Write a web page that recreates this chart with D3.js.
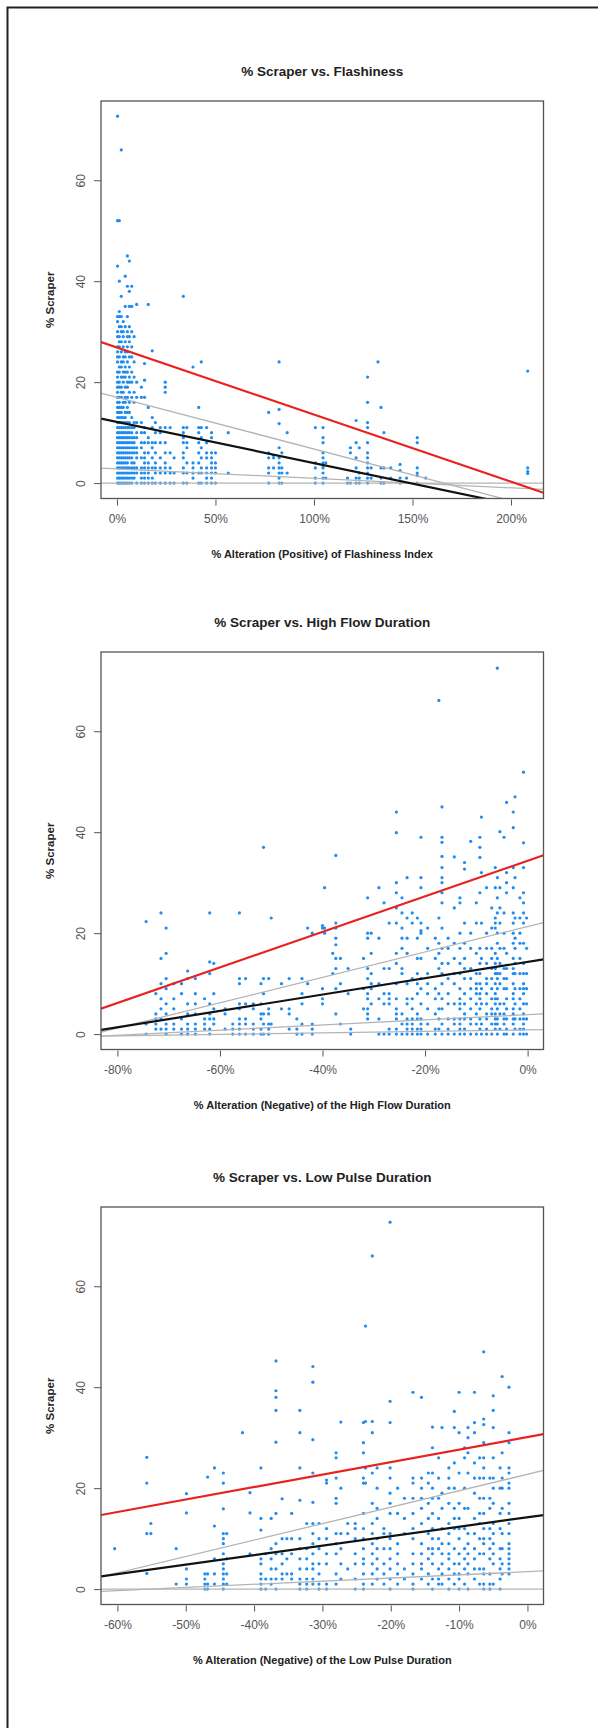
<!DOCTYPE html>
<html>
<head>
<meta charset="utf-8">
<script src="https://cdn.jsdelivr.net/npm/d3@7"></script>
<style>
  body { margin: 0; background: #fff; }
  svg text { font-family: "Liberation Sans", Arial, sans-serif; }
</style>
</head>
<body>
<div class="chart"></div>
<script>
// ---- data: [x %, [y values ...]] columns ----
const flashCols = [
  [0.3, [72.7, 52, 43, 33, 32, 30, 29, 27, 26, 25, 24, 22, 21, 20, 19, 18, 17, 16, 15, 14, 13, 12, 11, 10, 9, 8, 7, 6, 5, 4, 3, 2, 1, 0]],
  [1.2, [52, 40, 34, 33, 31, 29, 28, 27, 25, 23, 22, 20, 19, 17, 16, 15, 14, 13, 12, 11, 10, 9, 8, 7, 6, 5, 4, 3, 2, 1, 0]],
  [2.2, [66, 37, 33, 31, 30, 28, 26, 24, 23, 21, 19, 18, 17, 15, 14, 13, 12, 11, 10, 9, 8, 7, 6, 5, 4, 3, 2, 1, 0]],
  [3.2, [32, 30, 29, 27, 25, 24, 22, 21, 20, 18, 16, 15, 13, 12, 11, 10, 9, 8, 7, 6, 5, 4, 3, 2, 1, 0]],
  [4.2, [41, 35, 31, 28, 26, 25, 23, 22, 21, 19, 17, 16, 14, 13, 12, 11, 10, 9, 8, 7, 6, 5, 4, 3, 2, 1, 0]],
  [5.3, [45, 39, 33, 30, 29, 27, 26, 24, 22, 20, 19, 17, 15, 14, 12, 11, 10, 9, 8, 7, 6, 5, 4, 3, 2, 1, 0]],
  [6.3, [44, 38, 35, 31, 29, 28, 25, 23, 21, 20, 18, 16, 14, 12, 11, 10, 9, 8, 7, 6, 5, 3, 2, 1, 0]],
  [7.5, [39, 35, 30, 27, 25, 22, 20, 17, 13, 11, 10, 9, 8, 7, 6, 5, 4, 3, 2, 1, 0]],
  [8.7, [29, 24, 21, 18, 16, 12, 11, 9, 8, 7, 6, 4, 3, 2, 1]],
  [10, [35.4, 20, 17, 12, 10, 9, 7, 6, 5, 3, 2, 0]],
  [12.4, [19, 17, 12, 10, 8, 7, 5, 3, 2, 1, 0]],
  [14, [23.7, 20.4, 17, 11, 10, 8, 6, 5, 4, 3, 2, 1, 0]],
  [15.9, [35.4, 15, 9, 8, 6, 4, 3, 2, 1, 0]],
  [17.9, [26.2, 13, 11, 8, 7, 5, 3, 1, 0]],
  [19.5, [12, 10, 8, 6, 4, 3, 2, 0]],
  [22, [11, 10, 8, 5, 3, 2, 0]],
  [24.5, [20, 19, 18, 11, 8, 6, 4, 3, 2, 0]],
  [27, [11, 6, 3, 2, 0]],
  [29, [5, 2, 0]],
  [33.7, [37, 11, 10, 9, 8, 6, 5, 3, 2, 0]],
  [35.5, [11, 8, 7, 4, 2, 0]],
  [38.6, [23, 4, 3, 2, 1]],
  [41.5, [15, 11, 10, 8, 6, 4, 2, 0]],
  [42.8, [24, 11, 9, 7, 5, 3, 2, 0]],
  [45.5, [11, 8, 6, 5, 3, 2, 1, 0]],
  [48, [10, 9, 6, 5, 4, 3, 2, 1, 0]],
  [50, [6, 4, 3, 2, 0]],
  [56.5, [10, 2]],
  [77, [14, 6, 5, 3, 2, 0]],
  [79.5, [5.5, 5, 3]],
  [82.3, [24, 14.6, 11.8, 7, 5, 4, 3, 2, 1, 0]],
  [83.7, [6, 3, 2, 0]],
  [86.4, [10, 2]],
  [100.7, [11, 4, 3, 1, 0]],
  [104.6, [11, 9, 8, 6, 5, 4, 3.5, 3, 2, 1, 0]],
  [106, [4, 1]],
  [117, [1, 0]],
  [118.5, [7, 6, 0]],
  [121.4, [12.4, 8, 5, 3, 1, 0]],
  [123, [7, 2, 1, 0]],
  [127.2, [21, 16, 12, 11, 8, 6, 5, 4, 3, 2, 1, 0]],
  [129, [3, 1]],
  [132.5, [24]],
  [134, [15, 3, 1, 0]],
  [135.5, [10, 3, 0]],
  [139, [3, 1]],
  [143.7, [3.7, 2.5, 1, 0]],
  [147, [1]],
  [152.4, [9, 8, 3, 2, 1.5, 0]],
  [156.7, [1]],
  [208.5, [22.2, 3, 2.3, 1.9]]
]

const highCols = [
  [-74.4, [22.3, 2, 0]],
  [-72.5, [8, 4, 3, 2, 1]],
  [-71.5, [24, 15, 10, 7, 5, 3, 1]],
  [-70.5, [21, 16, 11, 9, 6, 4, 2, 1, 0]],
  [-69, [10, 7, 5, 2, 1]],
  [-67.5, [10, 8, 3, 1, 0]],
  [-66.3, [12.5, 11, 6, 4, 2, 1, 0]],
  [-64.8, [11, 8, 6, 4, 2, 1, 0]],
  [-63, [7, 3, 2, 1]],
  [-62, [24, 14.3, 12, 6, 4, 3, 1, 0]],
  [-61.2, [14, 8, 5, 3, 2]],
  [-59, [5, 4, 1]],
  [-57.5, [2, 1, 0]],
  [-56.2, [24, 11, 10, 6, 5, 3, 2, 1, 0]],
  [-55, [11, 6, 3, 2, 0]],
  [-53.5, [6, 5, 2, 1, 0]],
  [-52, [10, 6, 4, 3, 1, 0]],
  [-51.5, [37, 11, 8, 4, 2, 0]],
  [-50.5, [11, 5, 4, 2, 1, 0]],
  [-50, [23, 2]],
  [-48, [10, 5]],
  [-46.5, [11, 5, 4, 1]],
  [-45, [3, 1, 0]],
  [-44, [11, 8, 6, 2, 0]],
  [-42.9, [21, 10]],
  [-42, [20, 2, 1, 0]],
  [-40, [21.5, 21, 9, 7, 6]],
  [-39.6, [29, 21, 20]],
  [-38, [16, 12]],
  [-37.4, [35.4, 22, 21, 19, 17.7, 15, 13, 9, 4]],
  [-36.5, [15, 10, 2]],
  [-35, [13, 8]],
  [-34.5, [1, 0]],
  [-32, [15, 9, 5]],
  [-31.2, [27, 20, 19, 13, 11, 8, 7, 5, 4, 3]],
  [-30.5, [20, 16, 12, 10, 9, 6]],
  [-29, [29, 19, 10, 7, 3, 0]],
  [-28, [26, 13, 8, 6, 0]],
  [-27, [22, 13, 8, 7, 6, 1, 0]],
  [-25.6, [44, 39.9, 30, 28, 25, 22, 16, 14, 10, 7, 5, 4, 3, 1, 0]],
  [-24.5, [27, 24, 21, 19, 17, 13, 12, 4, 2, 0]],
  [-23.5, [31, 23, 19, 16, 10, 7, 6, 3, 2, 1, 0]],
  [-22.5, [24, 22, 11, 7, 5, 3, 2, 1, 0]],
  [-21.5, [23, 19, 15, 12, 10, 8, 4, 3, 1, 0]],
  [-20.8, [39, 31, 29, 22, 20.5, 20, 15, 11, 9, 6, 3, 2, 1, 0]],
  [-19.5, [21, 17, 12, 10, 8, 5, 2, 0]],
  [-18, [19, 15, 9, 7, 4, 1, 0]],
  [-17.3, [66.1, 23, 18, 16, 13, 8, 5, 3, 1]],
  [-16.7, [45, 39, 38, 35.2, 33, 31, 30, 28, 26, 21, 17, 14, 12, 10, 7, 5, 2, 0]],
  [-15.5, [19, 17, 14, 11, 8, 6, 3, 1, 0]],
  [-14.3, [35.1, 25, 18, 15, 12, 10, 6, 3, 2, 0]],
  [-13.2, [27, 26, 20, 17, 14, 12, 9, 7, 6, 5, 3, 2, 1, 0]],
  [-12.3, [34, 32.7, 22, 18, 15, 13, 11, 8, 6, 4, 3, 1, 0]],
  [-11.1, [38.2, 20, 17, 13, 11, 9, 7, 5, 3, 2, 0]],
  [-10, [26, 22, 16, 12, 10, 9, 8, 6, 4, 2, 0]],
  [-9.3, [39, 37, 35, 28, 17, 14, 12, 10, 8, 7, 5, 3, 1]],
  [-9, [43, 32, 22, 15, 9, 6, 2, 0]],
  [-8, [29, 20, 17, 14, 11, 10, 8, 6, 4, 3, 1, 0]],
  [-7, [25, 21, 17, 15, 13, 11, 9, 7, 5, 4, 2, 0]],
  [-6.3, [33, 29, 23, 22, 21, 16, 14, 13, 12, 10, 8, 7, 6, 4, 3, 2, 1]],
  [-5.9, [72.5, 31, 27, 24, 20, 18, 15, 12, 11, 9, 7, 5, 3, 2, 0]],
  [-5.4, [40.1, 29, 25, 22, 17, 14, 12, 10, 6, 4, 1]],
  [-4.6, [39, 24, 20, 17, 13, 11, 9, 6, 4, 3, 2, 0]],
  [-4.1, [45.9, 32, 30, 28, 16, 13, 11, 9, 7, 5, 3, 1, 0]],
  [-2.8, [44, 40.9, 33, 29, 24, 22, 20, 18, 15, 13, 12, 10, 8, 7, 5, 4, 3, 2, 0]],
  [-2.45, [47, 31, 23, 19, 17, 14, 12, 9, 6, 3, 1]],
  [-1.5, [27, 23, 20, 18, 15, 12, 9, 7, 5, 3, 1, 0]],
  [-0.8, [51.9, 37.9, 33, 28, 26, 24, 22, 18, 14, 12, 10, 9, 8, 6, 4, 3, 2, 1, 0]],
  [-0.2, [23, 17, 12, 9, 6, 3, 0]]
]

const lowCols = [
  [-60.4, [8]],
  [-55.7, [26.1, 21, 11, 3.1]],
  [-55.1, [13, 11]],
  [-51.4, [8, 1]],
  [-49.9, [18.9, 15.1, 4, 2, 1]],
  [-47.2, [3, 2, 1, 0]],
  [-46.8, [22.2, 3, 1, 0]],
  [-45.8, [24, 12.5, 6, 3, 1]],
  [-44.5, [23, 21, 15.9, 11, 10, 9, 7, 5, 4, 3, 2, 1, 0]],
  [-44, [11, 6, 3, 1]],
  [-41.7, [31]],
  [-40.6, [19.1, 15.1, 7]],
  [-39, [24, 14, 11.7, 6, 5, 3, 2, 1, 0]],
  [-38.3, [7, 2, 0]],
  [-37.5, [14, 8, 6, 4, 2, 1]],
  [-36.8, [45.2, 39.3, 38, 35.4, 29.1, 15, 9, 7, 4, 2, 0]],
  [-35.9, [17.9, 10, 7, 5, 3, 2]],
  [-35.2, [10, 6, 3]],
  [-34.5, [15, 10, 7, 3, 2]],
  [-33.3, [35.4, 31, 24, 17.6, 10, 8, 6, 4, 2, 1, 0]],
  [-32.3, [13, 8, 6, 4, 2, 1, 0]],
  [-31.4, [44.1, 41, 29.6, 23, 17.2, 13, 11, 9, 7, 5, 4, 2, 1]],
  [-30.5, [13, 10, 8, 5, 3, 1, 0]],
  [-29.4, [21.6, 21, 12, 10, 7, 5, 1, 0]],
  [-28, [27, 26, 22, 18, 17, 11, 9, 7, 3, 1]],
  [-27.3, [33.1, 20, 11, 8, 5, 2]],
  [-26.3, [13, 11, 4]],
  [-25.2, [13, 12, 10, 7, 5, 2, 0]],
  [-24, [33, 29, 27, 22, 21, 15, 12, 10, 8, 6, 5, 3, 1, 0]],
  [-23.7, [52.1, 33.2, 24, 21]],
  [-22.7, [66, 33.2, 31, 23, 17, 13, 11, 9, 7, 5, 3, 1]],
  [-22, [24, 20, 16, 14, 10, 8, 6, 4, 2]],
  [-21, [12, 11, 8, 5, 3, 1]],
  [-20.1, [72.7, 37.2, 33, 24, 22, 19, 17, 15, 11, 10, 8, 6, 4, 2, 0]],
  [-19, [20, 15, 9, 7, 5, 3, 1]],
  [-18, [18, 14, 11, 4, 2]],
  [-16.75, [39, 22, 21, 18, 15, 12, 10, 7, 5, 3, 1, 0]],
  [-15.5, [38, 22, 20, 18, 16, 13, 9, 7, 5, 4, 2]],
  [-14.5, [23, 21, 17, 14, 11, 8, 6, 3, 1]],
  [-13.9, [32.1, 28, 23, 20, 18, 15, 12, 10, 8, 7, 5, 2, 0]],
  [-13, [26, 22, 18, 14, 10, 8, 4, 2, 1]],
  [-12.5, [32, 19, 16, 12, 9, 7, 5, 3, 1]],
  [-11.5, [24, 22, 20, 17, 13, 11, 9, 7, 6, 4, 2, 0]],
  [-10.7, [35.2, 32, 25, 20, 16, 14, 12, 8, 5, 3, 1]],
  [-10, [39, 31, 23, 17, 14, 12, 10, 7, 5, 3, 2, 0]],
  [-9.2, [28, 26, 20, 16, 12, 8, 6, 4, 1]],
  [-8.7, [32, 30, 27, 23, 16, 11, 9, 7, 5, 3, 0]],
  [-7.75, [39, 33, 31, 25, 22, 19, 14, 11, 8, 6, 4, 2]],
  [-7, [26, 22, 18, 15, 13, 10, 7, 4, 1]],
  [-6.4, [47, 33.7, 32.6, 29, 26, 24, 22, 18, 15, 12, 10, 9, 7, 4, 3, 1, 0]],
  [-5.5, [22, 18, 16, 12, 10, 8, 6, 3, 1, 0]],
  [-5, [38.3, 35.4, 32, 26, 22, 20, 17, 13, 11, 9, 7, 5, 1]],
  [-4, [24, 20, 15, 12, 8, 6, 4, 2, 0]],
  [-3.7, [42.1, 27, 22, 20, 16, 11, 8, 5, 3]],
  [-2.7, [40, 31, 29, 24, 23, 21, 20, 17, 15, 13, 11, 9, 8, 7, 6, 5, 4, 3]]
]

// fitted lines: [intercept, slope, colour key]
const flashFits = [[26.87, -0.1329, 'red'], [17.01, -0.1025, 'gray'], [12.11, -0.0814, 'black'], [2.82, -0.0188, 'gray'], [0, 0, 'gray']]
const highFits = [[34.33, 0.352, 'red'], [21.3, 0.2515, 'gray'], [14.31, 0.162, 'black'], [3.85, 0.051, 'gray'], [0.85, 0.0151, 'gray']]
const lowFits = [[30.12, 0.2475, 'red'], [22.74, 0.3258, 'gray'], [14.23, 0.1879, 'black'], [3.45, 0.0625, 'gray'], [0, 0, 'gray']]

const flashTicks = [0, 50, 100, 150, 200]
const highTicks = [-80, -60, -40, -20, 0]
const lowTicks = [-60, -50, -40, -30, -20, -10, 0]
const yTicks = [0, 20, 40, 60]

const panels = [
  { title: '% Scraper vs. Flashiness', xTitle: '% Alteration (Positive) of Flashiness Index',
    cols: flashCols, fits: flashFits, xTicks: flashTicks, xDom: [-8.1, 216.5], top: 101 },
  { title: '% Scraper vs. High Flow Duration', xTitle: '% Alteration (Negative) of the High Flow Duration',
    cols: highCols, fits: highFits, xTicks: highTicks, xDom: [-83.2, 3.1], top: 652 },
  { title: '% Scraper vs. Low Pulse Duration', xTitle: '% Alteration (Negative) of the Low Pulse Duration',
    cols: lowCols, fits: lowFits, xTicks: lowTicks, xDom: [-62.4, 2.35], top: 1207 }
]

const W = 598, H = 1728
const box = { left: 101, right: 543.5, h: 397.5 }
const lineColour = { red: '#e8231f', gray: '#b4b4b4', black: '#111' }
const lineWidth = { red: 2.2, gray: 1.3, black: 2.2 }

const svg = d3.select('.chart').append('svg')
  .attr('width', W).attr('height', H)

// outer frame (left and top edges)
svg.append('path')
  .attr('d', `M7.5,${H} L7.5,7.5 L${W},7.5`)
  .attr('fill', 'none').attr('stroke', '#222').attr('stroke-width', 2)

panels.forEach((p, i) => {
  const top = p.top, bottom = p.top + box.h
  const x = d3.scaleLinear().domain(p.xDom).range([box.left, box.right])
  const y = d3.scaleLinear().domain([-3.05, 75.7]).range([bottom, top])

  const g = svg.append('g').classed('panel', true)

  const clipId = 'clip' + i
  g.append('clipPath').attr('id', clipId)
    .append('rect').attr('x', box.left).attr('y', top)
    .attr('width', box.right - box.left).attr('height', box.h)

  // points
  const pts = p.cols.flatMap(([cx, ys]) => ys.map(v => [cx, v]))
  g.append('g').selectAll('circle').data(pts).join('circle')
    .attr('cx', d => x(d[0])).attr('cy', d => y(d[1]))
    .attr('r', 1.6).attr('fill', '#1e8cf0')

  // fit lines (gray first, then black, red on top)
  const order = { gray: 0, black: 1, red: 2 }
  const fits = p.fits.slice().sort((a, b) => order[a[2]] - order[b[2]])
  g.append('g').attr('clip-path', `url(#${clipId})`)
    .selectAll('line').data(fits).join('line')
    .attr('x1', x(p.xDom[0])).attr('x2', x(p.xDom[1]))
    .attr('y1', d => y(d[0] + d[1] * p.xDom[0]))
    .attr('y2', d => y(d[0] + d[1] * p.xDom[1]))
    .attr('stroke', d => lineColour[d[2]])
    .attr('stroke-width', d => lineWidth[d[2]])

  // plot frame
  g.append('rect').attr('x', box.left).attr('y', top)
    .attr('width', box.right - box.left).attr('height', box.h)
    .attr('fill', 'none').attr('stroke', '#555').attr('stroke-width', 1.3)

  // x axis
  const xAxis = d3.axisBottom(x).tickValues(p.xTicks).tickSizeOuter(0).tickSize(6).tickPadding(9)
    .tickFormat(d => d + '%')
  const xg = g.append('g').attr('transform', `translate(0,${bottom + 1})`).call(xAxis)
  xg.select('.domain').remove()
  xg.selectAll('line').attr('stroke', '#555')
  xg.selectAll('text').attr('fill', '#555').style('font-size', '12px')

  // y axis with rotated labels
  const yAxis = d3.axisLeft(y).tickValues(yTicks).tickSizeOuter(0).tickSize(7)
  const yg = g.append('g').attr('transform', `translate(${box.left},0)`).call(yAxis)
  yg.select('.domain').remove()
  yg.selectAll('line').attr('stroke', '#555')
  yg.selectAll('text').attr('fill', '#555').style('font-size', '12px')
    .attr('x', 0).attr('dy', null)
    .attr('text-anchor', 'middle').attr('dominant-baseline', 'central')
    .attr('transform', 'translate(-20,0) rotate(-90)')

  // titles
  const mid = (box.left + box.right) / 2
  g.append('text').text(p.title)
    .attr('x', mid).attr('y', top - 30).attr('text-anchor', 'middle').attr('dominant-baseline', 'central')
    .style('font-size', '13.5px').style('font-weight', 'bold').attr('fill', '#222')
  g.append('text').text(p.xTitle)
    .attr('x', mid).attr('y', bottom + 55).attr('text-anchor', 'middle').attr('dominant-baseline', 'central')
    .style('font-size', '11px').style('font-weight', 'bold').attr('fill', '#222')
  g.append('text').text('% Scraper')
    .attr('text-anchor', 'middle').attr('dominant-baseline', 'central')
    .attr('transform', `translate(50,${(top + bottom) / 2}) rotate(-90)`)
    .style('font-size', '11.5px').style('font-weight', 'bold').attr('fill', '#222')
})
</script>
</body>
</html>
